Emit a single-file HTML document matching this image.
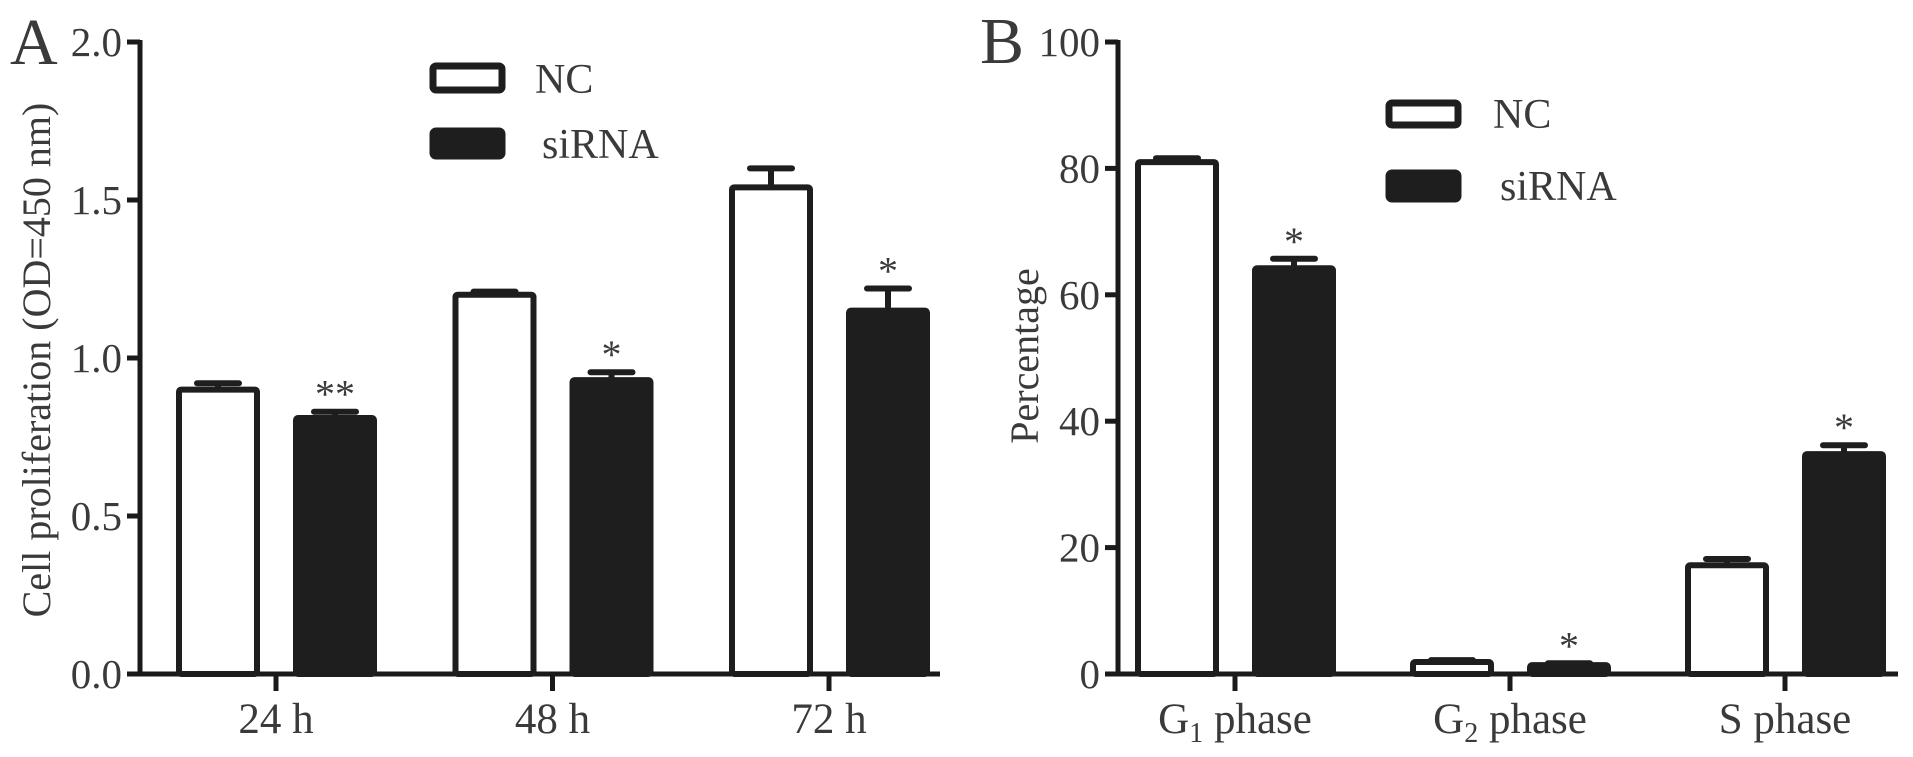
<!DOCTYPE html>
<html><head><meta charset="utf-8"><style>
body{margin:0;background:#fff}
svg{display:block;font-family:"Liberation Serif",serif;fill:#3a3a3a}
</style></head><body>
<svg id="c" width="1913" height="757" viewBox="0 0 1913 757" xmlns="http://www.w3.org/2000/svg"></svg>
<script>
const catsA=["24 h","48 h","72 h"];
const ncA=[0.90,1.20,1.54];
const ncErrA=[0.02,0.01,0.06];
const siA=[0.81,0.93,1.15];
const siErrA=[0.02,0.025,0.07];
const starsA=["**","*","*"];
const ticksA=[0,0.5,1.0,1.5,2.0];
const catsB=["G1","G2","S"];
const ncB=[81,1.9,17.2];
const ncErrB=[0.6,0.3,1.0];
const siB=[64.2,1.4,34.8];
const siErrB=[1.5,0.3,1.4];
const starsB=["*","*","*"];
const ticksB=[0,20,40,60,80,100];

const svg=document.getElementById('c');
const NS="http://www.w3.org/2000/svg";
function mk(tag,attrs,name,parent){const e=document.createElementNS(NS,tag);for(const k in attrs)e.setAttribute(k,attrs[k]);


(parent||svg).appendChild(e);return e;}

const Y0=674,YT=42,BW=84;
function panel(o){
  const g=mk('g',{},o.id+'-panel');
  const y=v=>Y0-(v/o.max)*(Y0-YT);
  mk('line',{x1:o.ax,y1:YT-2,x2:o.ax,y2:Y0+2,stroke:'#1a1a1a','stroke-width':5},'y-axis',g);
  mk('line',{x1:o.ax-13,y1:Y0,x2:o.axEnd,y2:Y0,stroke:'#1a1a1a','stroke-width':5},'x-axis',g);
  o.ticks.forEach(t=>{
    mk('line',{x1:o.ax-13,y1:y(t),x2:o.ax,y2:y(t),stroke:'#1a1a1a','stroke-width':5},'y-tick',g);
    const tx=mk('text',{x:o.ax-18,y:y(t)+14,'text-anchor':'end','font-size':41},'y-tick-label',g);
    tx.textContent=o.fmt(t);
  });
  o.cats.forEach((c,i)=>{
    const cx=o.first+i*o.step;
    const bars=[[o.nc[i],o.ncE[i],cx-100,'#fff','nc'],[o.si[i],o.siE[i],cx+17,'#1e1e1e','sirna']];
    bars.forEach(([v,e,bx,fill,nm])=>{
      const top=y(v),et=y(v+e);
      mk('line',{x1:bx+BW/2,y1:top,x2:bx+BW/2,y2:et,stroke:'#1e1e1e','stroke-width':6},'error-bar-'+nm,g);
      mk('line',{x1:bx+BW/2-21,y1:et,x2:bx+BW/2+21,y2:et,stroke:'#1e1e1e','stroke-width':6,'stroke-linecap':'round'},'error-cap-'+nm,g);
      mk('rect',{x:bx+3,y:top,width:BW-6,height:Y0-top,fill:fill,stroke:'#1e1e1e','stroke-width':6,rx:2},'bar-'+nm+'-'+i,g);
    });
    const st=mk('text',{x:cx+17+BW/2,y:y(o.si[i]+o.siE[i])-4,'text-anchor':'middle','font-size':40},'significance-star',g);
    st.textContent=o.stars[i];
    mk('line',{x1:cx,y1:Y0,x2:cx,y2:Y0+17,stroke:'#1a1a1a','stroke-width':5},'x-tick',g);
    const lt=mk('text',{x:cx,y:733,'text-anchor':'middle','font-size':43},'x-tick-label',g);
    if(o.sub && c.length>1){lt.innerHTML=c[0]+'<tspan font-size="28" dy="9">'+c.slice(1)+'</tspan><tspan dy="-9"> phase</tspan>';}
    else if(o.sub){lt.textContent=c+' phase';}
    else lt.textContent=c;
  });
  return g;
}
panel({id:'a',ax:140,axEnd:940,max:2,ticks:ticksA,fmt:t=>t.toFixed(1),cats:catsA,nc:ncA,ncE:ncErrA,si:siA,siE:siErrA,stars:starsA,first:276,step:276.5});
panel({id:'b',ax:1118,axEnd:1898,max:100,ticks:ticksB,fmt:t=>String(t),cats:catsB,nc:ncB,ncE:ncErrB,si:siB,siE:siErrB,stars:starsB,first:1235,step:275,sub:true});

function txt(a,s,name){const t=mk('text',a,name);t.textContent=s;return t;}
txt({x:10,y:64,'font-size':66},'A','panel-label-a');
txt({x:980,y:63,'font-size':66},'B','panel-label-b');
txt({x:0,y:0,'font-size':40,'text-anchor':'middle',transform:'translate(50,360) rotate(-90)'},'Cell proliferation (OD=450 nm)','y-axis-title-a');
txt({x:0,y:0,'font-size':40,'text-anchor':'middle',transform:'translate(1038,356) rotate(-90)'},'Percentage','y-axis-title-b');
// legends
mk('rect',{x:433,y:66,width:69,height:24,fill:'#fff',stroke:'#1e1e1e','stroke-width':7,rx:3},'legend-swatch-nc');
txt({x:535,y:93,'font-size':42},'NC','legend-label-nc');
mk('rect',{x:433,y:131,width:69,height:25,fill:'#1e1e1e',stroke:'#1e1e1e','stroke-width':7,rx:3},'legend-swatch-sirna');
txt({x:542,y:158,'font-size':42},'siRNA','legend-label-sirna');
mk('rect',{x:1389,y:103,width:69,height:22,fill:'#fff',stroke:'#1e1e1e','stroke-width':7,rx:3},'legend-swatch-nc-b');
txt({x:1493,y:128,'font-size':42},'NC','legend-label-nc-b');
mk('rect',{x:1389,y:173,width:69,height:26,fill:'#1e1e1e',stroke:'#1e1e1e','stroke-width':7,rx:3},'legend-swatch-sirna-b');
txt({x:1500,y:200,'font-size':42},'siRNA','legend-label-sirna-b');
</script>
</body></html>
